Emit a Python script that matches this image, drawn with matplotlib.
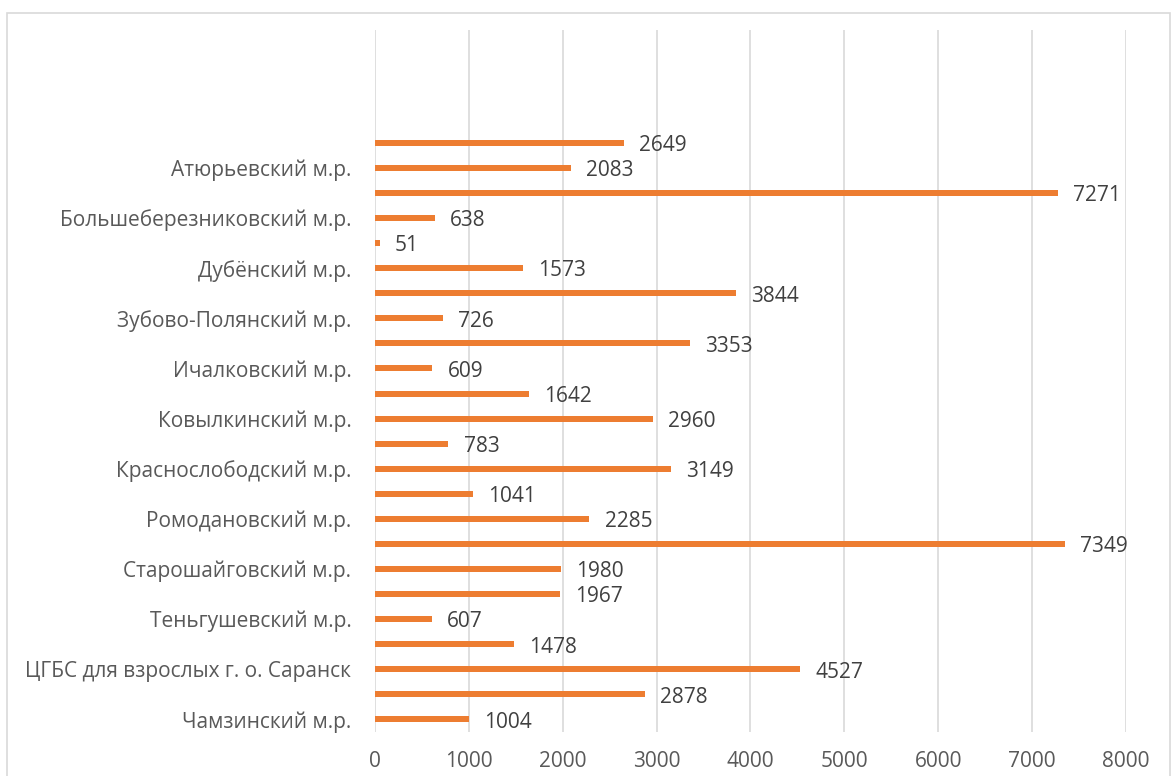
import matplotlib.pyplot as plt
from matplotlib.patches import Rectangle

# districts from top to bottom, only every other one gets a tick label (as in Excel)
districts = [
    "Ардатовский м.р.", "Атюрьевский м.р.", "Атяшевский м.р.",
    "Большеберезниковский м.р.", "Большеигнатовский м.р.", "Дубёнский м.р.",
    "Ельниковский м.р.", "Зубово-Полянский м.р.", "Инсарский м.р.",
    "Ичалковский м.р.", "Кадошкинский м.р.", "Ковылкинский м.р.",
    "Кочкуровский м.р.", "Краснослободский м.р.", "Лямбирский м.р.",
    "Ромодановский м.р.", "Рузаевский м.р.", "Старошайговский м.р.",
    "Темниковский м.р.", "Теньгушевский м.р.", "Торбеевский м.р.",
    "ЦГБС для взрослых г. о. Саранск", "ЦДБ г. о. Саранск", "Чамзинский м.р.",
]
values = [2649, 2083, 7271, 638, 51, 1573, 3844, 726, 3353, 609, 1642, 2960,
          783, 3149, 1041, 2285, 7349, 1980, 1967, 607, 1478, 4527, 2878, 1004]
x_ticks = [0, 1000, 2000, 3000, 4000, 5000, 6000, 7000, 8000]

plt.rcParams['font.family'] = ['Open Sans', 'DejaVu Sans']
fs = 15

fig = plt.figure(figsize=(11.71, 7.76), dpi=100)
ax = fig.add_axes([0.3202, 0.0567, 0.6414, 0.9046])

# bottom-to-top positions, with 4 empty slots left on top
n = len(values)
ypos = list(range(n - 1, -1, -1))
ax.barh(ypos, values, height=0.24, color='#ED7D31', zorder=3)

for y, v in zip(ypos, values):
    ax.annotate(str(v), (v, y), xytext=(11, -2), textcoords='offset points',
                va='center', ha='left', fontsize=fs, color='#404040')

ax.set_xlim(0, 8000)
ax.set_ylim(-0.5, n + 3.5)
ax.set_xticks(x_ticks)
ax.set_xticklabels([str(t) for t in x_ticks])
ax.set_yticks(ypos[1::2])
ax.set_yticklabels(districts[1::2])
ax.tick_params(length=0, labelsize=fs, labelcolor='#595959')
ax.tick_params(axis='x', pad=14)
ax.tick_params(axis='y', pad=17)
ax.grid(axis='x', color='#d9d9d9', linewidth=1.2, zorder=0)
for s in ax.spines.values():
    s.set_visible(False)

# chart border
fig.patches.append(Rectangle((7 / 1171, -0.05), 1163 / 1171, 1.05 - 13 / 776,
                             transform=fig.transFigure, fill=False,
                             edgecolor='#d9d9d9', linewidth=1.2))

fig.savefig('out.png', dpi=100)
